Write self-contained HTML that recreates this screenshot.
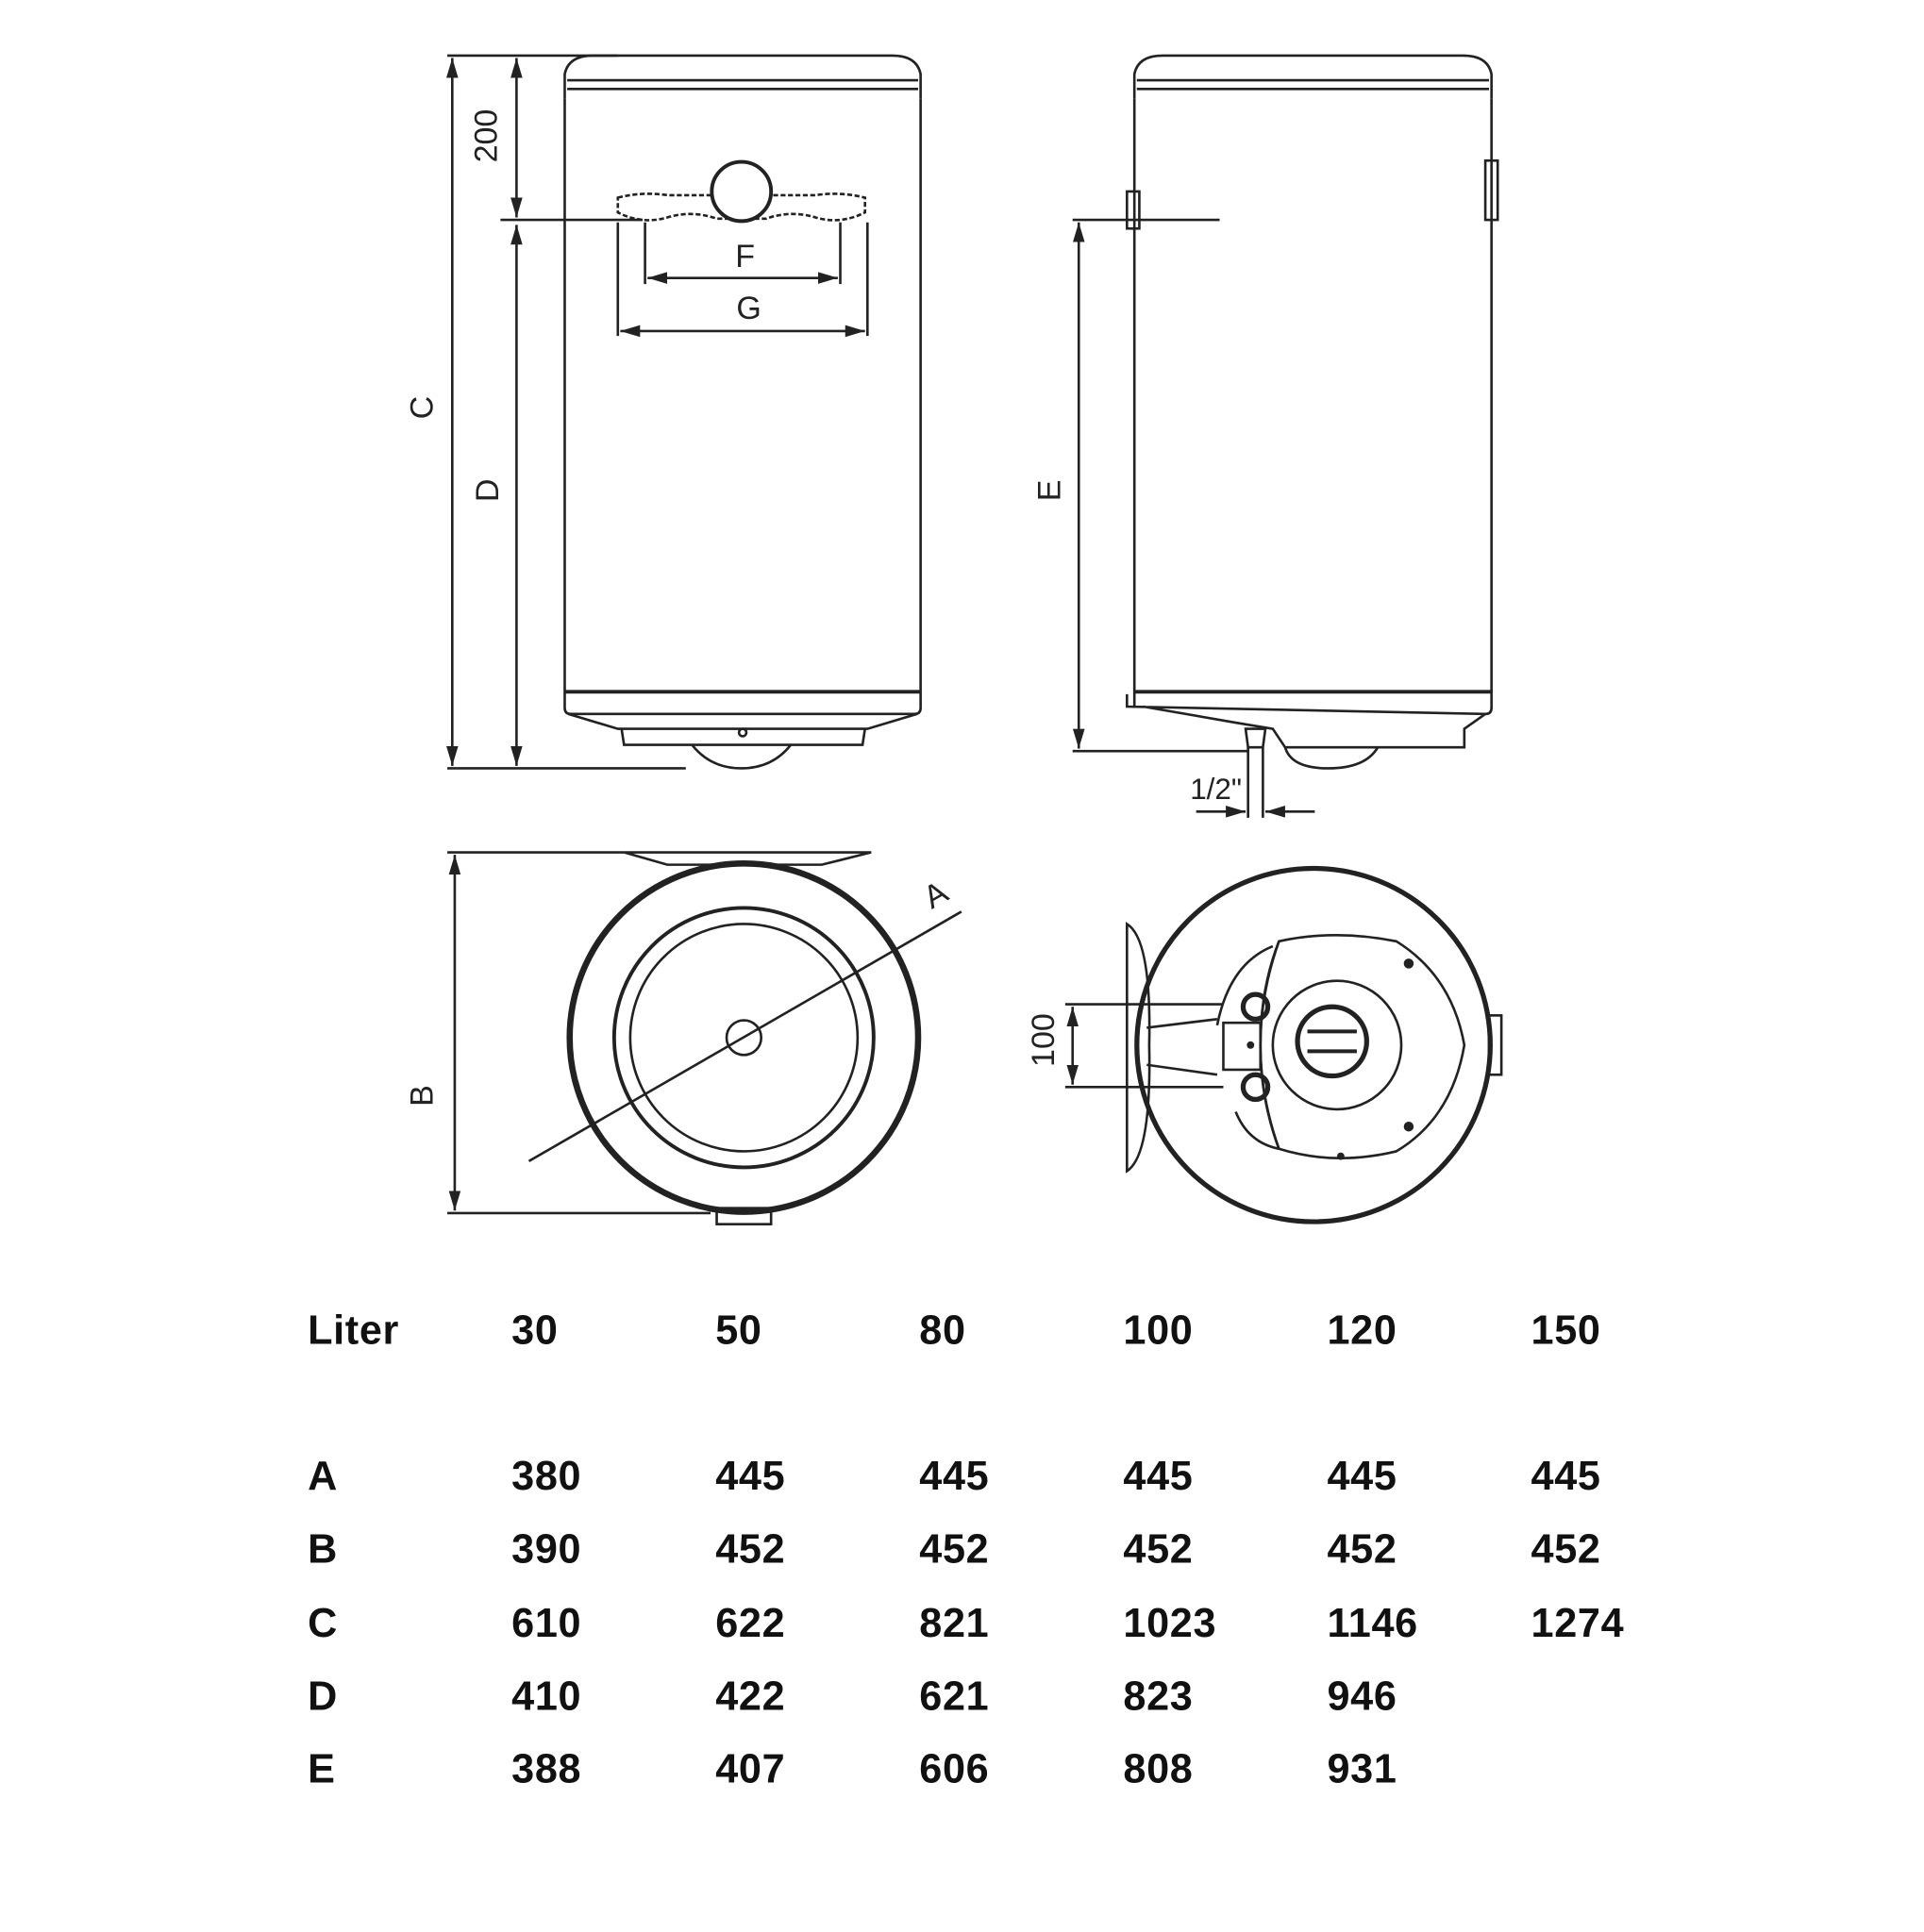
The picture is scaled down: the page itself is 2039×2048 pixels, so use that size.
<!DOCTYPE html>
<html><head><meta charset="utf-8"><style>
html,body{margin:0;padding:0;background:#fff;}
svg{display:block;}
</style></head><body>
<svg width="2039" height="2048" viewBox="0 0 1557 1564" preserveAspectRatio="none" xmlns="http://www.w3.org/2000/svg">
<rect width="1557" height="1564" fill="#fff"/>
<defs>
<marker id="ar" viewBox="0 0 10 10" refX="10" refY="5" markerWidth="8" markerHeight="8" orient="auto-start-reverse"><path d="M0,2 L10,5 L0,8 z" fill="#222"/></marker>
</defs>
<g fill="none" stroke="#222" stroke-width="2">
<path d="M457,80 L457,60 Q460,45 480,45 L722,45 Q742,45 745,60 L745,80"/>
<line x1="459" y1="65" x2="743" y2="65"/><line x1="459" y1="72" x2="743" y2="72"/>
<path d="M457,80 L457,573 Q457,578 462,578 L740,578 Q745,578 745,573 L745,80"/>
<line x1="457" y1="560" x2="745" y2="560" stroke-width="3"/>
<path d="M460,578 L500,590 L702,590 L742,578"/>
<path d="M503,590 L505,603 L698,603 L700,590"/>
<path d="M560,603 Q575,622 600,622 Q625,622 640,603"/>
<circle cx="601" cy="593" r="3"/>
<path d="M500,160 Q520,155 540,158 L660,158 Q680,155 700,160 L700,172 Q680,182 660,176 Q640,170 620,177 L580,177 Q560,170 540,176 Q520,182 500,172 Z" stroke-dasharray="4 2"/>
<circle cx="600" cy="155" r="24" stroke-width="3" fill="#fff"/>
<line x1="522" y1="180" x2="522" y2="230"/><line x1="680" y1="180" x2="680" y2="230"/>
<line x1="524" y1="225" x2="678" y2="225" marker-start="url(#ar)" marker-end="url(#ar)"/>
<line x1="500" y1="180" x2="500" y2="272"/><line x1="702" y1="180" x2="702" y2="272"/>
<line x1="502" y1="268" x2="700" y2="268" marker-start="url(#ar)" marker-end="url(#ar)"/>
<line x1="362" y1="45" x2="500" y2="45"/><line x1="405" y1="178" x2="520" y2="178"/><line x1="362" y1="622" x2="555" y2="622"/>
<line x1="366" y1="47" x2="366" y2="620" marker-start="url(#ar)" marker-end="url(#ar)"/>
<line x1="418" y1="47" x2="418" y2="176" marker-start="url(#ar)" marker-end="url(#ar)"/>
<line x1="418" y1="182" x2="418" y2="620" marker-start="url(#ar)" marker-end="url(#ar)"/>
<path d="M918,80 L918,60 Q921,45 941,45 L1184,45 Q1204,45 1207,60 L1207,80"/>
<line x1="920" y1="65" x2="1205" y2="65"/><line x1="920" y1="72" x2="1205" y2="72"/>
<path d="M918,80 L918,573 M1207,80 L1207,573 Q1207,578 1202,578"/>
<line x1="918" y1="560" x2="1207" y2="560" stroke-width="3"/>
<path d="M912,562 L912,572 L1202,578 L1185,590 L1185,605 L1040,605 L1030,590 L1000,585 L925,572"/>
<path d="M1040,605 Q1045,622 1075,622 Q1105,622 1115,605"/>
<rect x="912" y="155" width="10" height="30"/>
<rect x="1202" y="130" width="10" height="48"/>
<line x1="868" y1="178" x2="987" y2="178"/><line x1="868" y1="608" x2="1010" y2="608"/>
<line x1="873" y1="180" x2="873" y2="606" marker-start="url(#ar)" marker-end="url(#ar)"/>
<path d="M1008,590 L1024,590 L1022,605 L1010,605 Z"/>
<line x1="1010" y1="605" x2="1010" y2="662"/><line x1="1022" y1="605" x2="1022" y2="662"/>
<line x1="968" y1="657" x2="1008" y2="657" marker-end="url(#ar)"/>
<line x1="1064" y1="657" x2="1024" y2="657" marker-end="url(#ar)"/>
<path d="M505,690 L705,690 L665,700 L540,700 Z"/>
<circle cx="602" cy="840" r="141" stroke-width="5"/>
<circle cx="602" cy="840" r="105" stroke-width="3"/>
<circle cx="602" cy="840" r="92"/>
<circle cx="602" cy="840" r="14"/>
<rect x="580" y="978" width="44" height="13"/>
<line x1="362" y1="690" x2="505" y2="690"/><line x1="362" y1="982" x2="575" y2="982"/>
<line x1="368" y1="692" x2="368" y2="980" marker-start="url(#ar)" marker-end="url(#ar)"/>
<line x1="428" y1="940" x2="778" y2="738"/>
<circle cx="1063" cy="846" r="143" stroke-width="4"/>
<path d="M1035,762 Q1080,752 1130,762 Q1175,790 1185,846 Q1175,905 1130,932 Q1080,944 1035,930 Q1005,846 1035,762 Z" stroke-width="2"/>
<path d="M1035,762 Q1020,800 1020,846 Q1020,890 1035,930"/>
<path d="M1030,766 Q995,780 985,830" /><path d="M1000,900 Q1010,925 1035,930"/>
<circle cx="1082" cy="846" r="52"/>
<circle cx="1078" cy="843" r="28" stroke-width="4"/>
<line x1="1058" y1="835" x2="1098" y2="835" stroke-width="3"/><line x1="1058" y1="851" x2="1098" y2="851" stroke-width="3"/>
<circle cx="1016" cy="815" r="10" stroke-width="4"/><circle cx="1016" cy="880" r="10" stroke-width="4"/>
<path d="M990,828 L1020,828 L1020,866 L990,866 Z"/>
<path d="M912,748 Q932,760 930,846 Q932,935 912,948 Z"/>
<path d="M928,832 L985,825 M928,862 L985,870"/>
<rect x="1205" y="822" width="10" height="48"/>
<line x1="862" y1="813" x2="990" y2="813"/><line x1="862" y1="880" x2="990" y2="880"/>
<line x1="868" y1="815" x2="868" y2="878" marker-start="url(#ar)" marker-end="url(#ar)"/>
</g>
<g fill="#222">
<circle cx="1140" cy="780" r="4"/><circle cx="1140" cy="912" r="4"/><circle cx="1085" cy="936" r="3"/><circle cx="1012" cy="846" r="3"/>
</g>
<g font-family="'Liberation Sans',sans-serif" font-size="26" fill="#222" text-anchor="middle">
<text x="603" y="216">F</text>
<text x="606" y="258">G</text>
<text x="984" y="647" font-size="24">1/2"</text>
<text x="757" y="733" transform="rotate(-30 757 724)">A</text>
<text transform="translate(402,110) rotate(-90)">200</text>
<text transform="translate(350,330) rotate(-90)">C</text>
<text transform="translate(403,397) rotate(-90)">D</text>
<text transform="translate(858,397) rotate(-90)">E</text>
<text transform="translate(350,887) rotate(-90)">B</text>
<text transform="translate(853,842) rotate(-90)">100</text>
</g>
<g font-family="'Liberation Sans',sans-serif" font-size="33" font-weight="bold" fill="#111" letter-spacing="0.5">
<text x="249" y="1088">Liter</text><text x="414" y="1088">30</text><text x="579" y="1088">50</text><text x="744" y="1088">80</text><text x="909" y="1088">100</text><text x="1074" y="1088">120</text><text x="1239" y="1088">150</text>
<text x="249" y="1206">A</text><text x="414" y="1206">380</text><text x="579" y="1206">445</text><text x="744" y="1206">445</text><text x="909" y="1206">445</text><text x="1074" y="1206">445</text><text x="1239" y="1206">445</text>
<text x="249" y="1265">B</text><text x="414" y="1265">390</text><text x="579" y="1265">452</text><text x="744" y="1265">452</text><text x="909" y="1265">452</text><text x="1074" y="1265">452</text><text x="1239" y="1265">452</text>
<text x="249" y="1325">C</text><text x="414" y="1325">610</text><text x="579" y="1325">622</text><text x="744" y="1325">821</text><text x="909" y="1325">1023</text><text x="1074" y="1325">1146</text><text x="1239" y="1325">1274</text>
<text x="249" y="1384">D</text><text x="414" y="1384">410</text><text x="579" y="1384">422</text><text x="744" y="1384">621</text><text x="909" y="1384">823</text><text x="1074" y="1384">946</text>
<text x="249" y="1443">E</text><text x="414" y="1443">388</text><text x="579" y="1443">407</text><text x="744" y="1443">606</text><text x="909" y="1443">808</text><text x="1074" y="1443">931</text>
</g>
</svg>
</body></html>
